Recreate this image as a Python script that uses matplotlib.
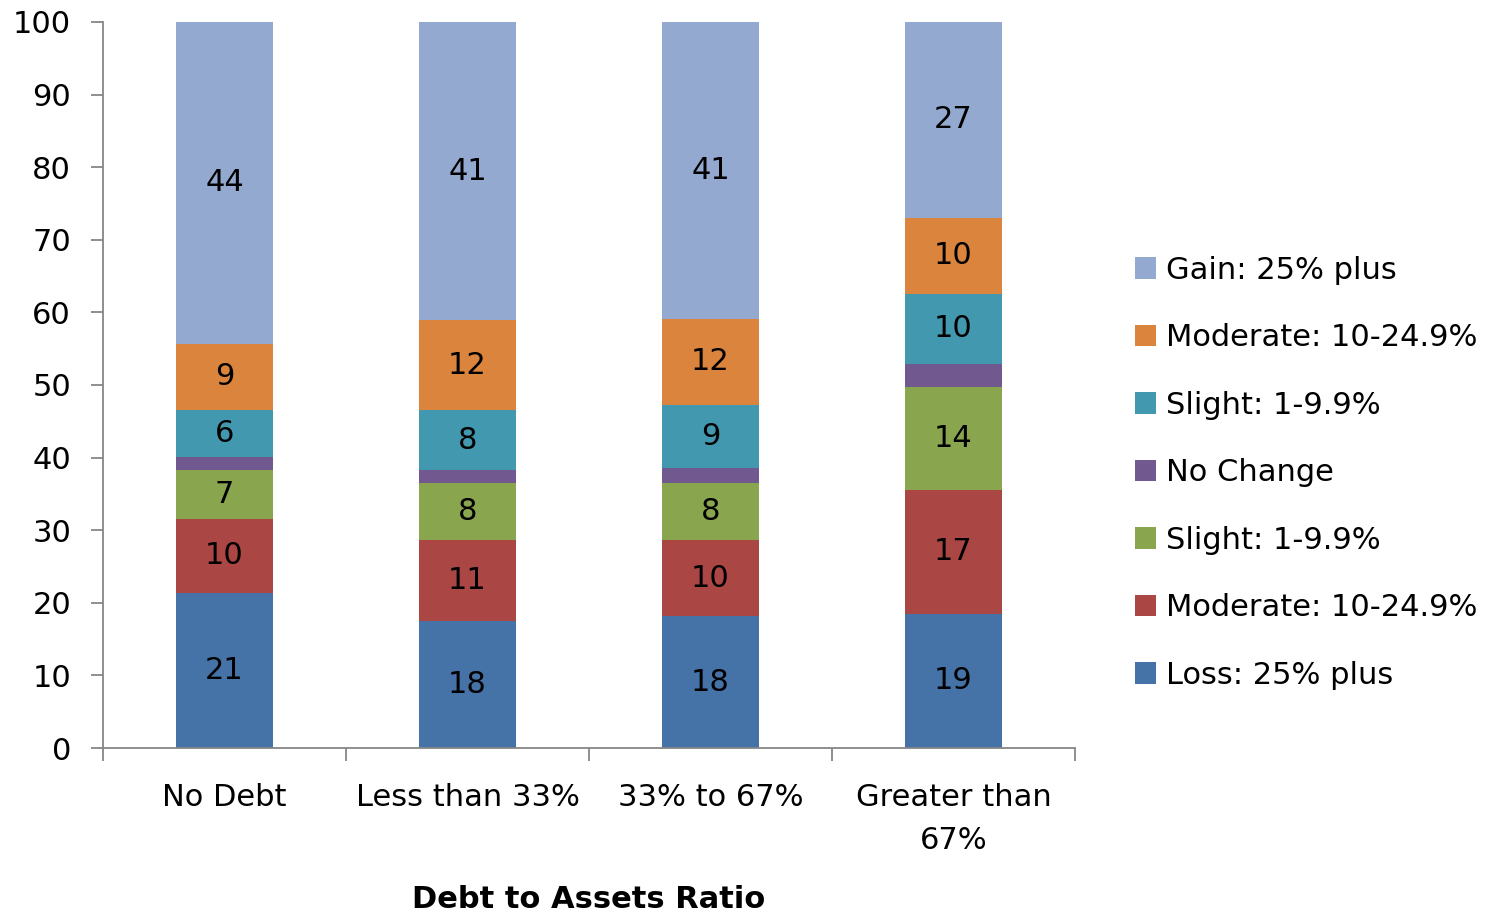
import numpy as np
from matplotlib import pyplot as plt

plt.rcParams['font.family'] = ['DejaVu Sans']

categories = ['No Debt', 'Less than 33%', '33% to 67%', 'Greater than\n67%']

# segments from the bottom of each bar upward
loss_25 = [21.4, 17.5, 18.15, 18.5]
loss_moderate = [10.2, 11.1, 10.45, 17.1]
loss_slight = [6.7, 7.95, 7.95, 14.1]
no_change = [1.75, 1.75, 1.95, 3.2]
gain_slight = [6.45, 8.2, 8.7, 9.7]
gain_moderate = [9.2, 12.4, 11.95, 10.45]
gain_25 = [44.3, 41.1, 40.85, 26.95]

series = [
    ('Loss: 25% plus', loss_25, '#4572A7', True),
    ('Moderate: 10-24.9%', loss_moderate, '#AA4643', True),
    ('Slight: 1-9.9%', loss_slight, '#89A54E', True),
    ('No Change', no_change, '#71588F', False),
    ('Slight: 1-9.9%', gain_slight, '#4298AF', True),
    ('Moderate: 10-24.9%', gain_moderate, '#DB843D', True),
    ('Gain: 25% plus', gain_25, '#93A9D0', True),
]

fs = 22

fig = plt.figure(figsize=(15.01, 9.15), dpi=100)
ax = fig.add_axes([0.0686, 0.1825, 0.6476, 0.7935])

x = np.arange(len(categories))
bottom = np.zeros(len(categories))
handles = []
for name, vals, color, show in series:
    vals = np.array(vals)
    bars = ax.bar(x, vals, 0.4, bottom=bottom, color=color, label=name)
    handles.append(bars)
    if show:
        for xi, b, v in zip(x, bottom, vals):
            ax.text(xi, b + v / 2, str(int(np.floor(v + 0.5))),
                    ha='center', va='center', fontsize=fs, color='black')
    bottom += vals

ax.set_xlim(-0.5, len(categories) - 0.5)
ax.set_ylim(0, 100)
ax.set_yticks(range(0, 101, 10))

axis_grey = '#868686'
for side in ['top', 'right']:
    ax.spines[side].set_visible(False)
for side in ['left', 'bottom']:
    ax.spines[side].set_color(axis_grey)
    ax.spines[side].set_linewidth(1.3)

ax.tick_params(axis='y', length=9, width=1.3, color=axis_grey,
               labelsize=fs, pad=14)
ax.set_xticks(np.arange(-0.5, len(categories), 1.0))
ax.set_xticklabels([])
ax.tick_params(axis='x', which='major', length=9, width=1.3, color=axis_grey)
ax.set_xticks(x, minor=True)
ax.set_xticklabels(categories, minor=True, fontsize=fs, linespacing=1.6)
ax.tick_params(axis='x', which='minor', length=0, pad=25)
for lbl in ax.get_xticklabels(minor=True):
    lbl.set_verticalalignment('top')

ax.set_xlabel('Debt to Assets Ratio', fontsize=fs, fontweight='bold', labelpad=22)

fig.legend(handles[::-1], [s[0] for s in series][::-1],
           loc='center left', bbox_to_anchor=(0.756, 0.4836),
           frameon=False, fontsize=fs, handlelength=0.7, handleheight=0.7,
           handletextpad=0.33, labelspacing=1.26, borderpad=0, borderaxespad=0)

fig.savefig('out.png', dpi=100)
